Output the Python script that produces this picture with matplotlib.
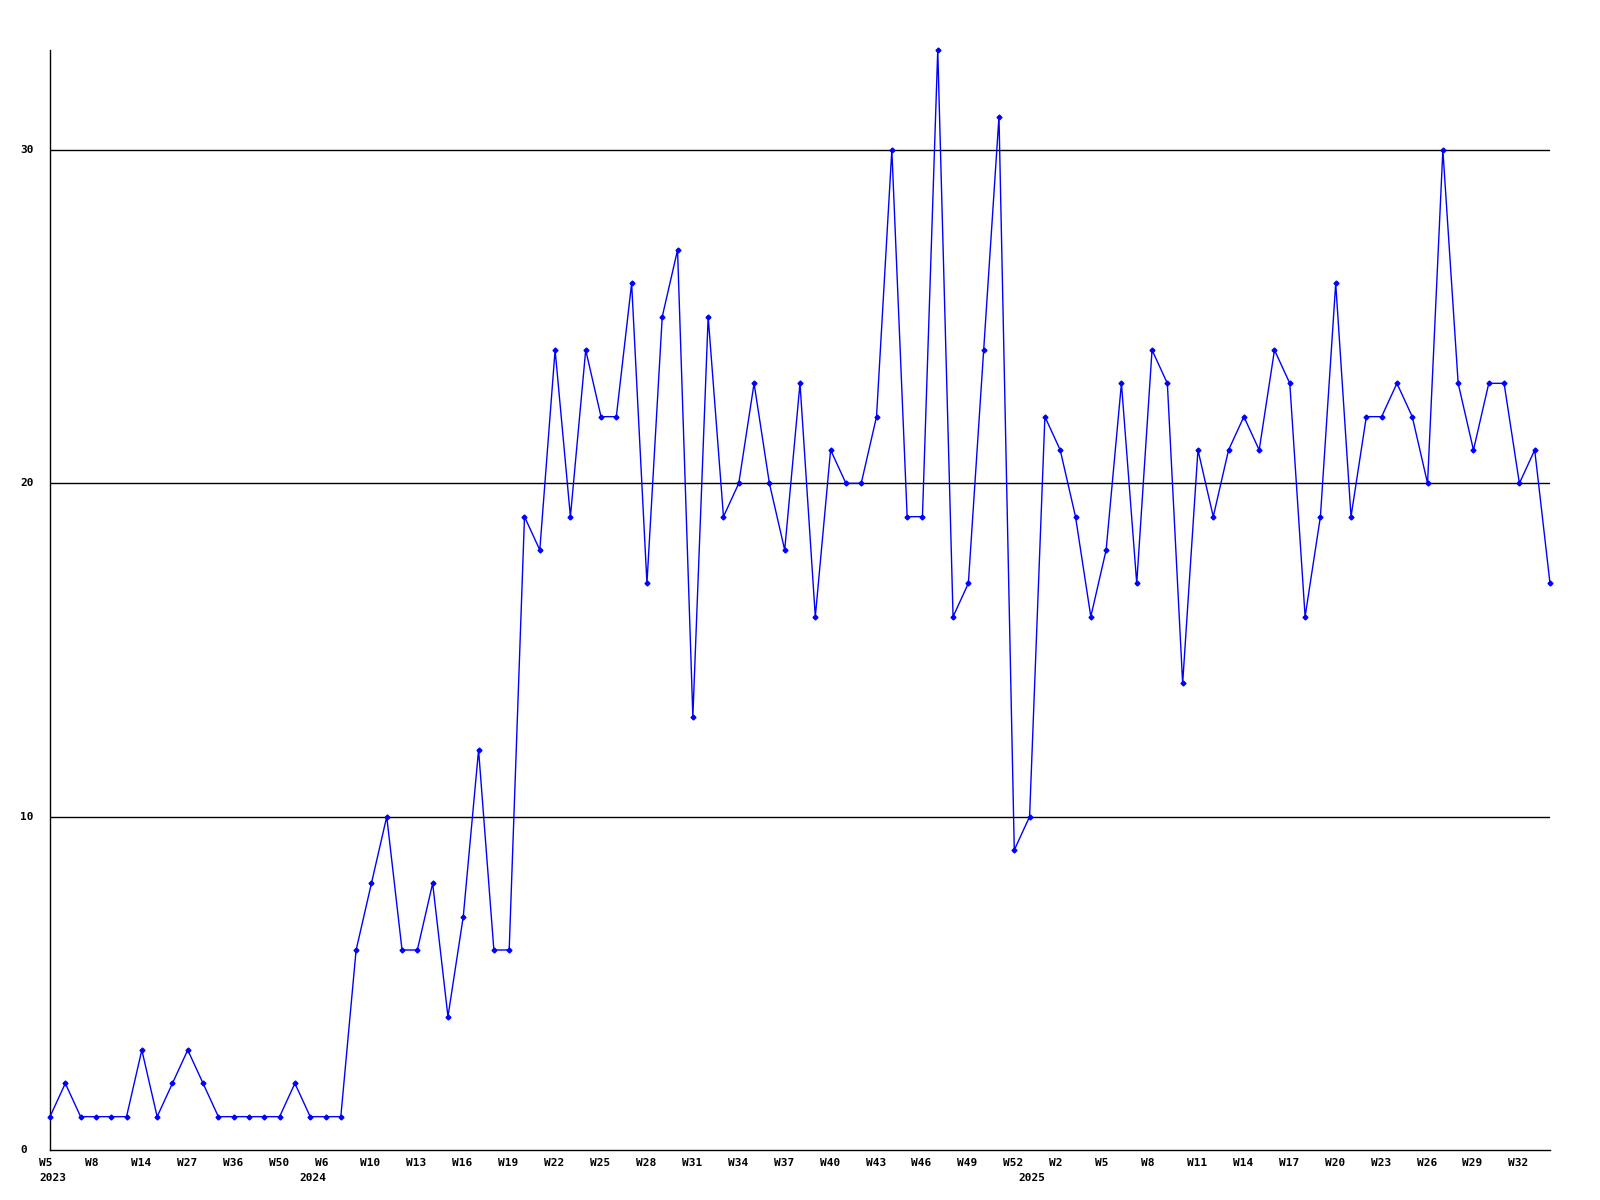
import matplotlib
matplotlib.use("Agg")
import matplotlib.pyplot as plt
from matplotlib.transforms import ScaledTranslation, blended_transform_factory

values = [1, 2, 1, 1, 1, 1, 3, 1, 2, 3, 2, 1, 1, 1, 1, 1, 2, 1, 1, 1,
          6, 8, 10, 6, 6, 8, 4, 7, 12, 6, 6, 19, 18, 24, 19, 24, 22, 22, 26, 17,
          25, 27, 13, 25, 19, 20, 23, 20, 18, 23, 16, 21, 20, 20, 22, 30, 19, 19, 33, 16,
          17, 24, 31, 9, 10, 22, 21, 19, 16, 18, 23, 17, 24, 23, 14, 21, 19, 21, 22, 21,
          24, 23, 16, 19, 26, 19, 22, 22, 23, 22, 20, 30, 23, 21, 23, 23, 20, 21, 17]

week_labels = ["W5", "W8", "W14", "W27", "W36", "W50", "W6", "W10", "W13", "W16", "W19",
               "W22", "W25", "W28", "W31", "W34", "W37", "W40", "W43", "W46", "W49",
               "W52", "W2", "W5", "W8", "W11", "W14", "W17", "W20", "W23", "W26", "W29", "W32"]
label_step = 3
year_labels = ["2023", "2024", "2025"]
year_positions = [0, 17, 64]
y_ticks = [0, 10, 20, 30]

fig = plt.figure(figsize=(16, 12), dpi=100)
ax = fig.add_axes([50/1600, 1 - 1150/1200, 1500/1600, 1100/1200])

xs = list(range(len(values)))
ax.plot(xs, values, color="#0000ff", linewidth=1.0, marker="D", markersize=2.5,
        markerfacecolor="#0000ff", markeredgecolor="#0000ff", clip_on=False, zorder=3)

ax.set_xlim(0, len(values) - 1)
ax.set_ylim(0, 33)

for y in y_ticks[1:]:
    ax.axhline(y, color="black", linewidth=1.0, zorder=1)

for s in ["top", "right"]:
    ax.spines[s].set_visible(False)
for s in ["left", "bottom"]:
    ax.spines[s].set_linewidth(1.0)
    ax.spines[s].set_color("black")

ax.set_xticks([])
ax.set_yticks([])

font = dict(family="DejaVu Sans Mono", fontweight="bold", fontsize=8, color="black")

off = ScaledTranslation(-11/100, -8/100, fig.dpi_scale_trans)
xtrans = ax.get_xaxis_transform() + off
for i, lab in enumerate(week_labels):
    ax.text(i * label_step, 0, lab, transform=xtrans, ha="left", va="top", **font)

off2 = ScaledTranslation(-11/100, -23/100, fig.dpi_scale_trans)
ytrans2 = ax.get_xaxis_transform() + off2
for pos, lab in zip(year_positions, year_labels):
    ax.text(pos, 0, lab, transform=ytrans2, ha="left", va="top", **font)

ylab_trans = blended_transform_factory(fig.transFigure, ax.transData)
for y in y_ticks:
    ax.text(20/1600, y, str(y), transform=ylab_trans, ha="left", va="center", **font)

fig.savefig("out.png", dpi=100, facecolor="white")
